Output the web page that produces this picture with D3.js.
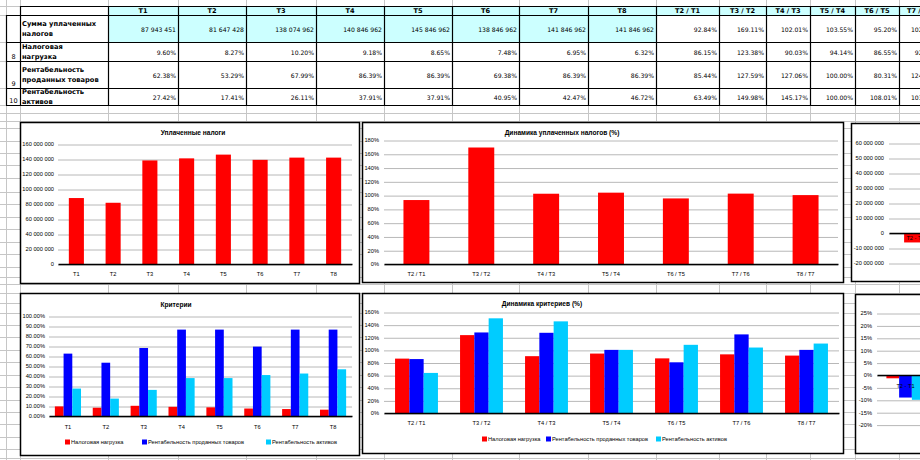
<!DOCTYPE html>
<html><head><meta charset="utf-8">
<script src="https://cdn.jsdelivr.net/npm/d3@7"></script>
<style>html,body{margin:0;padding:0;background:#fff;overflow:hidden}</style>
</head><body>
<script>
// ---------- DATA ----------
const periods = ['T1','T2','T3','T4','T5','T6','T7','T8'];
const ratioLabels = ['T2 / T1','T3 / T2','T4 / T3','T5 / T4','T6 / T5','T7 / T6','T8 / T7'];
const diffLabels = ['T2 - T1','T3 - T2','T4 - T3','T5 - T4','T6 - T5','T7 - T6','T8 - T7'];
const rowLabels = [['Сумма уплаченных','налогов'],['Налоговая','нагрузка'],['Рентабельность','проданных товаров'],['Рентабельность','активов']];
const rowNumbers = ['', '8', '9', '10'];
const seriesNames = ['Налоговая нагрузка','Рентабельность проданных товаров','Рентабельность активов'];
const taxes = [87943451, 81647428, 138074962, 140846962, 145846962, 138846962, 141846962, 141846962];
const taxBurden = [9.60, 8.27, 10.20, 9.18, 8.65, 7.48, 6.95, 6.32];
const salesProfit = [62.38, 53.29, 67.99, 86.39, 86.39, 69.38, 86.39, 86.39];
const assetProfit = [27.42, 17.41, 26.11, 37.91, 37.91, 40.95, 42.47, 46.72];
const taxRatio = [92.84, 169.11, 102.01, 103.55, 95.20, 102.17, 100.00];
const burdenRatio = [86.15, 123.38, 90.03, 94.14, 86.55, 92.91, 90.94];
const salesRatio = [85.44, 127.59, 127.06, 100.00, 80.31, 124.52, 100.00];
const assetRatio = [63.49, 149.98, 145.17, 100.00, 108.01, 103.71, 110.01];
const taxDiff = [-6296023, 56427534, 2772000, 5000000, -7000000, 3000000, 0];
const burdenDiff = [-1.33, 1.93, -1.02, -0.53, -1.17, -0.53, -0.63];
const salesDiff = [-9.09, 14.70, 18.40, 0.00, -17.01, 17.01, 0.00];
const assetDiff = [-10.01, 8.70, 11.80, 0.00, 3.04, 1.52, 4.25];
const ticksTaxes = [0,20e6,40e6,60e6,80e6,100e6,120e6,140e6,160e6];
const ticksTaxRatio = [0,20,40,60,80,100,120,140,160,180];
const ticksCriteria = [0,10,20,30,40,50,60,70,80,90,100];
const ticksCritRatio = [0,20,40,60,80,100,120,140,160];
const ticksTaxDiff = [-20e6,-10e6,0,10e6,20e6,30e6,40e6,50e6,60e6];
const ticksCritDiff = [-20,-15,-10,-5,0,5,10,15,20,25];

// ---------- SETUP ----------
const W = 920, H = 460;
const RED = '#ff0000', BLUE = '#0000ff', CYAN = '#00ccff';
const loc = d3.formatLocale({decimal:'.', thousands:' ', grouping:[3], currency:['',''], minus:'-'});
const fmtInt = loc.format(',d');
const fmtPct2 = d => d.toFixed(2) + '%';
const fmtPct0 = d => d + '%';
const svg = d3.select('body').append('svg').attr('width', W).attr('height', H)
  .style('display','block').style('background','#fff');

// ---------- SPREADSHEET GRID ----------
const colX = [20, 108, 178, 246, 316, 384, 452, 519, 588, 656, 719, 766, 810, 855, 899, 940, 985];
const rowY = [6, 15, 42, 61, 88, 105];
const gridRows = [6,15,42,61,88,105,113,121,128,141,153,165,178,192,204,217,229,242,254,267,277,284,293,303,313,325,337,350,362,375,387,400,412,424,437,449,458];
const grid = svg.append('g').attr('stroke','#c6c6c6').attr('stroke-width',1);
[6].concat(colX).forEach(x => grid.append('line').attr('x1',x+0.5).attr('x2',x+0.5).attr('y1',0).attr('y2',H));
gridRows.forEach(y => grid.append('line').attr('x1',0).attr('x2',W).attr('y1',y+0.5).attr('y2',y+0.5));

// ---------- TABLE ----------
const table = svg.append('g');
const headers = periods.concat(ratioLabels);
const rowsData = [
  taxes.map(fmtInt).concat(taxRatio.map(fmtPct2)),
  taxBurden.map(fmtPct2).concat(burdenRatio.map(fmtPct2)),
  salesProfit.map(fmtPct2).concat(salesRatio.map(fmtPct2)),
  assetProfit.map(fmtPct2).concat(assetRatio.map(fmtPct2))
];
headers.forEach((h,i) => {
  table.append('rect').attr('x',colX[i+1]).attr('y',rowY[0]).attr('width',colX[i+2]-colX[i+1]).attr('height',rowY[1]-rowY[0]).attr('fill','#ccffff');
});
periods.forEach((p,i) => {
  table.append('rect').attr('x',colX[i+1]).attr('y',rowY[1]).attr('width',colX[i+2]-colX[i+1]).attr('height',rowY[2]-rowY[1]).attr('fill','#ccffff');
});
table.append('rect').attr('x',6).attr('y',rowY[1]).attr('width',14).attr('height',rowY[5]-rowY[1]).attr('fill','#fff');
table.append('rect').attr('x',20).attr('y',rowY[0]).attr('width',88).attr('height',rowY[5]-rowY[0]).attr('fill','#fff');
for (let r = 1; r <= 4; r++) {
  for (let c = 8; c < headers.length; c++) {
    table.append('rect').attr('x',colX[c+1]).attr('y',rowY[r]).attr('width',colX[c+2]-colX[c+1]).attr('height',rowY[r+1]-rowY[r]).attr('fill','#fff');
  }
}
const bd = table.append('g').attr('stroke','#000').attr('stroke-width',1.2);
colX.forEach(x => bd.append('line').attr('x1',x+0.5).attr('x2',x+0.5).attr('y1',rowY[0]).attr('y2',rowY[5]));
bd.append('line').attr('x1',6.5).attr('x2',6.5).attr('y1',rowY[1]).attr('y2',rowY[5]);
rowY.forEach((y,i) => bd.append('line').attr('x1', i===0 ? 20 : 6).attr('x2',W).attr('y1',y+0.5).attr('y2',y+0.5));
headers.forEach((h,i) => {
  table.append('text').text(h).attr('x',(colX[i+1]+colX[i+2])/2).attr('y',(rowY[0]+rowY[1])/2+0.5)
    .attr('text-anchor','middle').attr('dominant-baseline','central')
    .attr('font-family','DejaVu Sans').attr('font-weight','bold').attr('font-size',6.6);
});
rowLabels.forEach((lines,r) => {
  const cy = (rowY[r+1]+rowY[r+2])/2;
  lines.forEach((t,k) => {
    table.append('text').text(t).attr('x',22).attr('y',cy + (k-0.5)*9.2 + 0.5)
      .attr('dominant-baseline','central').attr('font-family','DejaVu Sans').attr('font-weight','bold').attr('font-size',6.7);
  });
  if (rowNumbers[r]) {
    table.append('text').text(rowNumbers[r]).attr('x',13.5).attr('y',rowY[r+2]-2.5)
      .attr('text-anchor','middle').attr('font-family','DejaVu Sans').attr('font-size',6.5);
  }
  rowsData[r].forEach((v,c) => {
    table.append('text').text(v).attr('x',colX[c+2]-2).attr('y',cy+0.5)
      .attr('text-anchor','end').attr('dominant-baseline','central')
      .attr('font-family','DejaVu Sans').attr('font-size',6.1);
  });
});

// ---------- CHARTS ----------
function drawChart(o) {
  const g = svg.append('g');
  g.append('rect').attr('x',o.box[0]+0.5).attr('y',o.box[1]+0.5).attr('width',o.box[2]-o.box[0]).attr('height',o.box[3]-o.box[1])
    .attr('fill','#fff').attr('stroke','#000').attr('stroke-width',1.5);
  const y = d3.scaleLinear().domain(o.domain).range(o.yRange);
  const n = o.cats.length;
  const pxEnd = o.px0 + o.step * n;
  const x0 = d3.scaleBand().domain(o.cats).range([o.px0, pxEnd]).paddingInner(o.pad).paddingOuter(o.pad/2);
  const x1 = d3.scaleBand().domain(d3.range(o.series.length)).range([0, x0.bandwidth()]);
  const ya = g.append('g').attr('transform',`translate(${o.px0},0)`)
    .call(d3.axisLeft(y).tickValues(o.ticks).tickFormat(o.fmt).tickSizeInner(-(pxEnd-o.px0)).tickSizeOuter(0).tickPadding(o.tickPad));
  ya.select('.domain').remove();
  ya.selectAll('.tick line').attr('stroke','#b8b8b8').attr('stroke-width',1).attr('transform','translate(0,0.5)');
  ya.selectAll('.tick text').attr('font-family','Liberation Sans').attr('font-size',5.7).attr('fill','#000');
  o.series.forEach((s,i) => {
    g.append('g').selectAll('rect').data(s.values).enter().append('rect')
      .attr('x',(d,j) => x0(o.cats[j]) + x1(i)).attr('width', x1.bandwidth())
      .attr('y', d => y(Math.max(0,d))).attr('height', d => Math.abs(y(d)-y(0)))
      .attr('fill', s.color);
  });
  const xa = g.append('g').attr('transform',`translate(0,${y(0)})`)
    .call(d3.axisBottom(x0).tickSize(0).tickSizeOuter(0));
  xa.select('.domain').attr('stroke','#000').attr('stroke-width',1.3);
  xa.selectAll('.tick text').attr('y',o.labelOff).attr('dy','0.35em')
    .attr('font-family','Liberation Sans').attr('font-size',5.7).attr('fill','#000');
  if (o.title) {
    g.append('text').text(o.title[0]).attr('x',o.title[1]).attr('y',o.title[2]).attr('text-anchor','middle')
      .attr('dominant-baseline','central').attr('font-family','Liberation Sans').attr('font-weight','bold').attr('font-size',6.6);
  }
  if (o.legend) {
    o.series.forEach((s,i) => {
      const [sx, tx] = o.legend.pos[i];
      g.append('rect').attr('x',sx).attr('y',o.legend.y-2.5).attr('width',5).attr('height',5).attr('fill',s.color);
      g.append('text').text(s.name).attr('x',tx).attr('y',o.legend.y).attr('dominant-baseline','central')
        .attr('font-family','Liberation Sans').attr('font-size',5.7);
    });
  }
}

drawChart({box:[20,122,359,283], domain:[0,160e6], yRange:[264,144], ticks:ticksTaxes, fmt:fmtInt, tickPad:4,
  cats:periods, px0:58, step:(352-58)/8, pad:0.59, labelOff:10,
  series:[{values:taxes, color:RED}], title:['Уплаченные налоги',193,132]});

drawChart({box:[362,122,843,282], domain:[0,180], yRange:[264,140], ticks:ticksTaxRatio, fmt:fmtPct0, tickPad:5,
  cats:ratioLabels, px0:384, step:(838-384)/7, pad:0.6, labelOff:10,
  series:[{values:taxRatio, color:RED}], title:['Динамика уплаченных налогов (%)',562,132]});

drawChart({box:[851,123,1300,281], domain:[-20e6,60e6], yRange:[263,143], ticks:ticksTaxDiff, fmt:fmtInt, tickPad:5,
  cats:diffLabels, px0:889, step:53, pad:0.57, labelOff:5,
  series:[{values:taxDiff, color:RED}]});

drawChart({box:[20,293,359,455], domain:[0,100], yRange:[416,316], ticks:ticksCriteria, fmt:fmtPct2, tickPad:4,
  cats:periods, px0:49, step:(352-49)/8, pad:0.31, labelOff:11,
  series:[{values:taxBurden,color:RED,name:seriesNames[0]},{values:salesProfit,color:BLUE,name:seriesNames[1]},{values:assetProfit,color:CYAN,name:seriesNames[2]}],
  title:['Критерии',176,304], legend:{y:442, pos:[[65,71],[142,148],[266,272]]}});

drawChart({box:[362,293,843,453], domain:[0,160], yRange:[413,312], ticks:ticksCritRatio, fmt:fmtPct0, tickPad:5,
  cats:ratioLabels, px0:384, step:(839-384)/7, pad:0.34, labelOff:10,
  series:[{values:burdenRatio,color:RED,name:seriesNames[0]},{values:salesRatio,color:BLUE,name:seriesNames[1]},{values:assetRatio,color:CYAN,name:seriesNames[2]}],
  title:['Динамика критериев (%)',542,303], legend:{y:439, pos:[[482,488],[546,552],[656,662]]}});

drawChart({box:[855,294,1300,453], domain:[-20,25], yRange:[424.6,313], ticks:ticksCritDiff, fmt:fmtPct0, tickPad:5,
  cats:diffLabels, px0:877, step:57, pad:0.33, labelOff:11,
  series:[{values:burdenDiff,color:RED},{values:salesDiff,color:BLUE},{values:assetDiff,color:CYAN}]});
</script>
</body></html>
